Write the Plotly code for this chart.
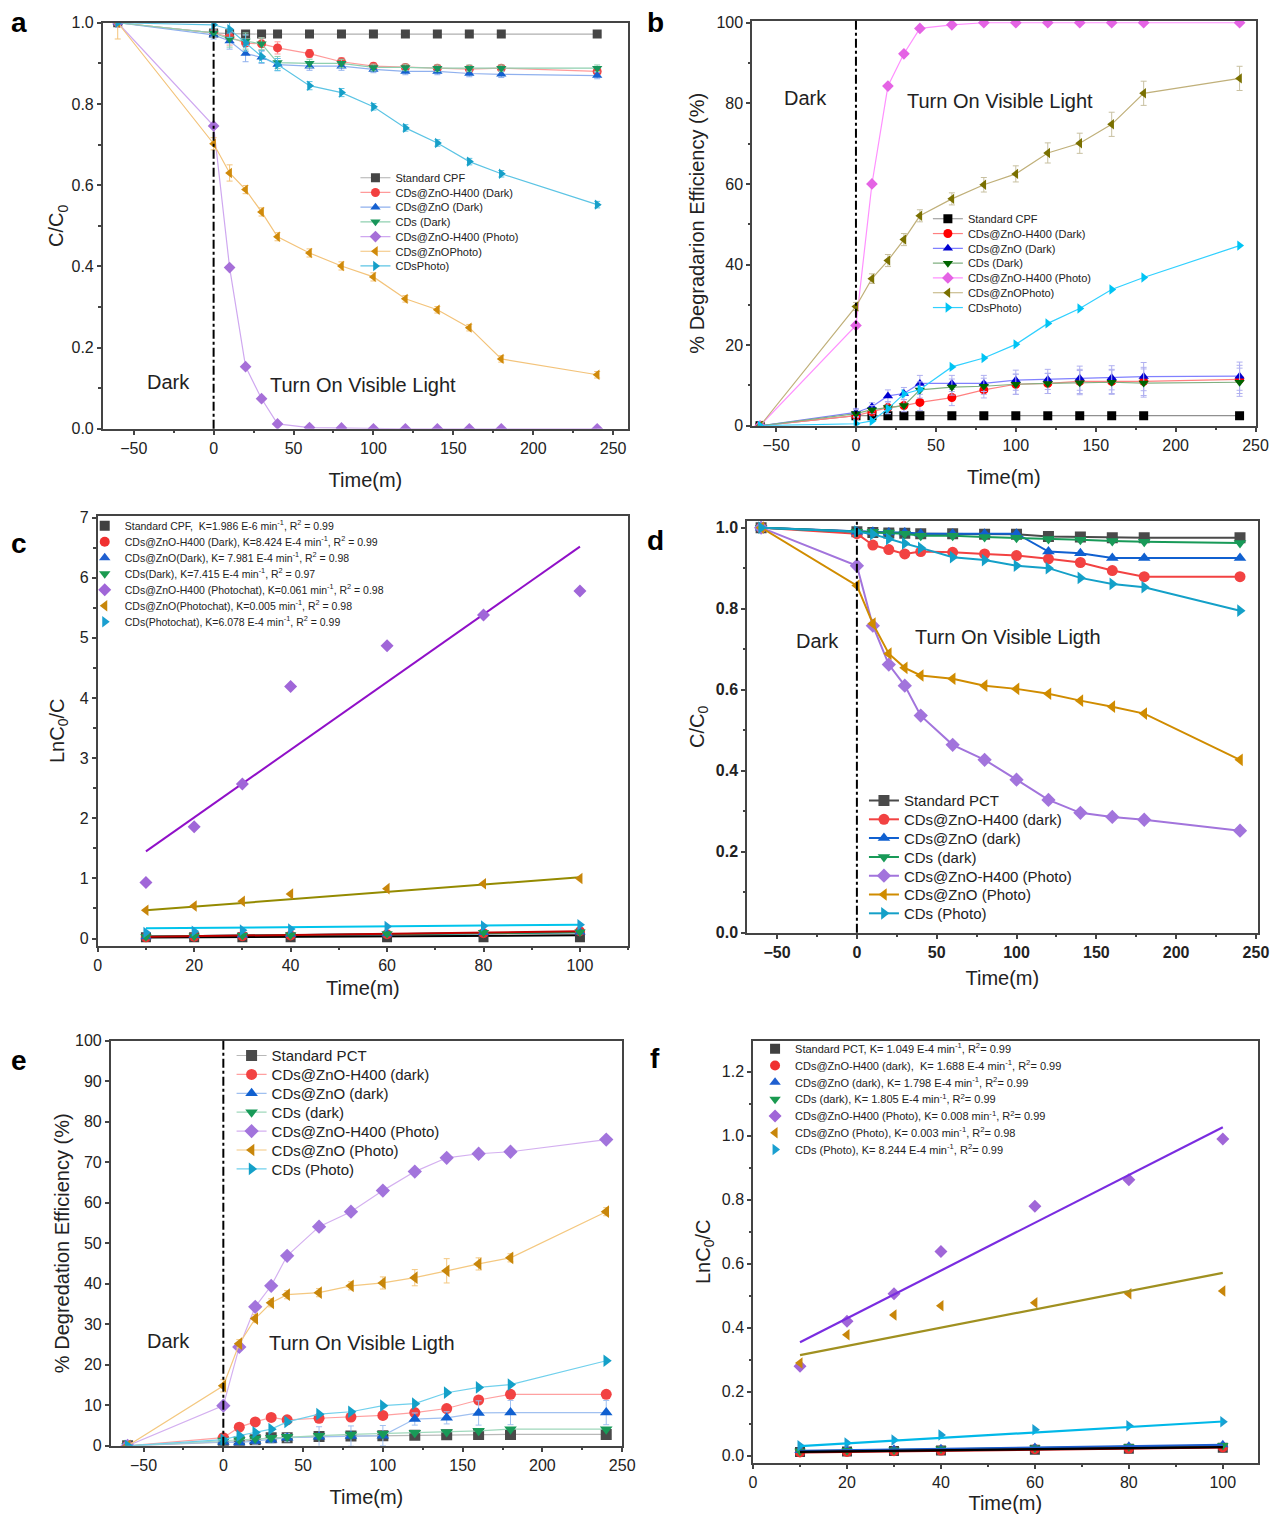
import plotly.graph_objects as go
import numpy as np

W, H = 1271, 1520
FONT = "Liberation Sans, Arial, sans-serif"

# ---------------- data ----------------
t = [-60, 0, 10, 20, 30, 40, 60, 80, 100, 120, 140, 160, 180, 240]
tk = [10, 20, 30, 40, 60, 80, 100]

names_cpf = ["Standard CPF", "CDs@ZnO-H400 (Dark)", "CDs@ZnO (Dark)", "CDs (Dark)",
             "CDs@ZnO-H400 (Photo)", "CDs@ZnOPhoto)", "CDsPhoto)"]
names_pct = ["Standard PCT", "CDs@ZnO-H400 (dark)", "CDs@ZnO (dark)", "CDs (dark)",
             "CDs@ZnO-H400 (Photo)", "CDs@ZnO (Photo)", "CDs (Photo)"]
names_c = [
    "Standard CPF,  K=1.986 E-6 min<sup>-1</sup>, R<sup>2</sup> = 0.99",
    "CDs@ZnO-H400 (Dark), K=8.424 E-4 min<sup>-1</sup>, R<sup>2</sup> = 0.99",
    "CDs@ZnO(Dark), K= 7.981 E-4 min<sup>-1</sup>, R<sup>2</sup> = 0.98",
    "CDs(Dark), K=7.415 E-4 min<sup>-1</sup>, R<sup>2</sup> = 0.97",
    "CDs@ZnO-H400 (Photochat), K=0.061 min<sup>-1</sup>, R<sup>2</sup> = 0.98",
    "CDs@ZnO(Photochat), K=0.005 min<sup>-1</sup>, R<sup>2</sup> = 0.98",
    "CDs(Photochat), K=6.078 E-4 min<sup>-1</sup>, R<sup>2</sup> = 0.99",
]
names_f = [
    "Standard PCT, K= 1.049 E-4 min<sup>-1</sup>, R<sup>2</sup>= 0.99",
    "CDs@ZnO-H400 (dark),  K= 1.688 E-4 min<sup>-1</sup>, R<sup>2</sup>= 0.99",
    "CDs@ZnO (dark), K= 1.798 E-4 min<sup>-1</sup>, R<sup>2</sup>= 0.99",
    "CDs (dark), K= 1.805 E-4 min<sup>-1</sup>, R<sup>2</sup>= 0.99",
    "CDs@ZnO-H400 (Photo), K= 0.008 min<sup>-1</sup>, R<sup>2</sup>= 0.99",
    "CDs@ZnO (Photo), K= 0.003 min<sup>-1</sup>, R<sup>2</sup>= 0.98",
    "CDs (Photo), K= 8.244 E-4 min<sup>-1</sup>, R<sup>2</sup>= 0.99",
]

# panel a : C/C0 (CPF)
a_std = [1.0, 0.975, 0.973, 0.972, 0.972, 0.972, 0.972, 0.972, 0.972, 0.972, 0.972, 0.972, 0.972, 0.972]
a_h400_dark = [1.0, 0.975, 0.965, 0.95, 0.948, 0.938, 0.924, 0.904, 0.893, 0.89, 0.888, 0.886, 0.888, 0.88]
a_zno_dark = [1.0, 0.97, 0.955, 0.924, 0.915, 0.897, 0.893, 0.893, 0.885, 0.88, 0.88, 0.875, 0.873, 0.87]
a_cds_dark = [1.0, 0.975, 0.96, 0.955, 0.948, 0.902, 0.9, 0.9, 0.89, 0.89, 0.888, 0.888, 0.888, 0.888]
a_h400_photo = [1.0, 0.746, 0.397, 0.153, 0.074, 0.012, 0.003, 0.002, 0.0, 0.0, 0.0, 0.0, 0.0, 0.0]
a_zno_photo = [1.0, 0.702, 0.63, 0.589, 0.534, 0.473, 0.433, 0.401, 0.374, 0.32, 0.293, 0.249, 0.172, 0.133]
a_cds_photo = [1.0, 0.995, 0.984, 0.95, 0.917, 0.897, 0.845, 0.828, 0.793, 0.741, 0.704, 0.658, 0.628, 0.552]
a_err_small = [0.0, 0.01, 0.02, 0.02, 0.015, 0.015, 0.01, 0.01, 0.008, 0.008, 0.008, 0.008, 0.008, 0.008]
a_err_zno = [0.04, 0.015, 0.02, 0.01, 0.01, 0.01, 0.01, 0.01, 0.01, 0.008, 0.008, 0.008, 0.008, 0.008]

# panel b : % degradation (CPF)
b_std = [0, 2.5, 2.5, 2.5, 2.5, 2.5, 2.5, 2.5, 2.5, 2.5, 2.5, 2.5, 2.5, 2.5]
b_h400_dark = [0, 2.5, 3.5, 4.5, 5.0, 5.8, 7.0, 8.9, 10.3, 10.5, 11.0, 11.0, 11.0, 11.5]
b_zno_dark = [0, 3.3, 4.7, 7.4, 8.0, 10.5, 10.5, 10.5, 11.3, 11.5, 11.8, 11.9, 12.2, 12.3]
b_cds_dark = [0, 3.0, 4.0, 4.5, 5.0, 8.9, 9.6, 9.8, 10.3, 10.5, 10.7, 10.8, 10.6, 10.8]
b_h400_photo = [0, 24.9, 60.0, 84.3, 92.3, 98.6, 99.5, 100, 100, 100, 100, 100, 100, 100]
b_zno_photo = [0, 29.6, 36.5, 41.0, 46.2, 52.1, 56.3, 59.8, 62.5, 67.7, 70.1, 74.8, 82.5, 86.2]
b_cds_photo = [0, 0.5, 1.2, 4.2, 7.9, 9.0, 14.6, 16.8, 20.2, 25.4, 29.1, 33.8, 36.8, 44.7]
b_err_zno = [0, 1.0, 1.2, 1.5, 1.5, 1.5, 1.5, 1.8, 2.0, 2.5, 2.5, 3.0, 3.0, 3.0]
b_err_dark = [0, 1.0, 1.0, 1.5, 1.5, 2.0, 2.0, 2.0, 2.5, 2.5, 3.0, 3.0, 3.5, 3.5]

# panel c : kinetics (CPF)
c_std = [0.02, 0.02, 0.02, 0.02, 0.02, 0.02, 0.02]
c_h400_dark = [0.02, 0.03, 0.04, 0.05, 0.07, 0.09, 0.12]
c_zno_dark = [0.03, 0.05, 0.06, 0.07, 0.08, 0.10, 0.11]
c_cds_dark = [0.03, 0.04, 0.05, 0.06, 0.08, 0.10, 0.11]
c_h400_photo = [0.93, 1.86, 2.57, 4.19, 4.87, 5.38, 5.78]
c_zno_photo = [0.47, 0.54, 0.62, 0.74, 0.83, 0.91, 1.00]
c_cds_photo = [0.10, 0.12, 0.14, 0.16, 0.20, 0.21, 0.23]
# fitted lines (intercept, slope)
c_fit_intercept = [0.013, 0.02, 0.025, 0.025, 0.887, 0.409, 0.163]
c_fit_slope = [0.0004, 0.001, 0.0008, 0.0008, 0.0563, 0.00611, 0.00067]

# panel d : C/C0 (PCT)
d_std = [1.0, 0.99, 0.988, 0.987, 0.986, 0.985, 0.985, 0.984, 0.984, 0.978, 0.977, 0.975, 0.975, 0.975]
d_h400_dark = [1.0, 0.985, 0.957, 0.946, 0.935, 0.941, 0.939, 0.935, 0.931, 0.923, 0.914, 0.894, 0.879, 0.879]
d_zno_dark = [1.0, 0.99, 0.99, 0.988, 0.988, 0.985, 0.985, 0.985, 0.985, 0.941, 0.937, 0.925, 0.925, 0.925]
d_cds_dark = [1.0, 0.99, 0.99, 0.988, 0.985, 0.98, 0.98, 0.977, 0.975, 0.972, 0.97, 0.967, 0.965, 0.962]
d_h400_photo = [1.0, 0.906, 0.758, 0.662, 0.61, 0.536, 0.464, 0.427, 0.378, 0.328, 0.296, 0.286, 0.279, 0.252]
d_zno_photo = [1.0, 0.857, 0.763, 0.689, 0.654, 0.635, 0.627, 0.61, 0.602, 0.59, 0.573, 0.558, 0.541, 0.427]
d_cds_photo = [1.0, 0.99, 0.984, 0.972, 0.961, 0.95, 0.927, 0.92, 0.906, 0.90, 0.876, 0.861, 0.853, 0.795]

# panel e : % degradation (PCT)
e_std = [0, 1.0, 1.0, 1.5, 2.0, 2.0, 2.3, 2.4, 2.5, 2.6, 2.7, 2.8, 2.8, 2.8]
e_h400_dark = [0, 2.0, 4.6, 5.9, 7.0, 6.4, 6.8, 7.1, 7.5, 8.2, 9.2, 11.3, 12.7, 12.7]
e_zno_dark = [0, 1.0, 0.8, 1.2, 1.5, 2.0, 2.2, 2.4, 2.5, 6.6, 6.9, 8.1, 8.2, 8.2]
e_cds_dark = [0, 1.3, 1.5, 1.8, 2.0, 2.2, 2.5, 2.8, 3.0, 3.2, 3.4, 3.7, 4.1, 4.1]
e_h400_photo = [0, 9.9, 24.4, 34.3, 39.5, 46.9, 54.1, 57.8, 63.0, 67.7, 71.1, 72.1, 72.6, 75.6]
e_zno_photo = [0, 14.8, 25.2, 31.4, 35.3, 37.3, 37.8, 39.5, 40.2, 41.5, 43.2, 44.9, 46.4, 57.8]
e_cds_photo = [0, 1.5, 2.5, 3.3, 4.1, 5.9, 7.8, 8.4, 9.9, 10.4, 13.1, 14.4, 15.1, 21.0]
e_err_zno = [0, 1.5, 1.0, 1.0, 1.0, 1.0, 1.0, 1.0, 1.5, 2.0, 3.0, 1.5, 1.0, 1.0]
e_err_dark = [0, 0.5, 0.5, 0.8, 0.8, 1.0, 2.5, 2.5, 2.5, 1.5, 1.5, 3.0, 3.0, 3.0]

# panel f : kinetics (PCT)
f_std = [0.012, 0.013, 0.015, 0.016, 0.019, 0.022, 0.025]
f_h400_dark = [0.010, 0.012, 0.014, 0.016, 0.020, 0.022, 0.026]
f_zno_dark = [0.016, 0.018, 0.020, 0.022, 0.026, 0.030, 0.034]
f_cds_dark = [0.014, 0.016, 0.018, 0.021, 0.024, 0.028, 0.032]
f_h400_photo = [0.28, 0.42, 0.506, 0.638, 0.78, 0.863, 0.99]
f_zno_photo = [0.29, 0.378, 0.44, 0.469, 0.478, 0.506, 0.515]
f_cds_photo = [0.031, 0.040, 0.049, 0.065, 0.081, 0.094, 0.106]
f_fit_intercept = [0.0103, 0.009, 0.013, 0.012, 0.280, 0.286, 0.0214]
f_fit_slope = [0.000167, 0.00017, 0.00021, 0.0002, 0.00747, 0.002856, 0.000856]

symbols = ["square", "circle", "triangle-up", "triangle-down", "diamond", "triangle-left", "triangle-right"]

# ---------------- helpers ----------------
# calibration of the capture (the page is shown slightly scaled / offset)
SX, OX, SY, OY = 0.9876, 3.2, 0.9888, 7.25

def px(x):
    return min(1.0, max(0.0, ((x - OX) / SX) / W))

def py(y):
    return min(1.0, max(0.0, 1 - ((y - OY) / SY) / H))

fig = go.Figure()
legend_defs = {}

def axis(n, xr, yr, xdom, ydom, xdtick, ydtick, xminor, yminor, xtitle, ytitle,
         yfmt=None, bold=False, xstand=8, ystand=8, mirror=True):
    tf = dict(size=16, color="#222", family=FONT, weight="bold" if bold else "normal")
    common = dict(showline=True, linecolor="#444", linewidth=1.5, mirror=mirror,
                  ticks="outside", ticklen=4, tickwidth=1.5, tickcolor="#444",
                  showgrid=False, zeroline=False, tickfont=tf)
    xa = dict(common, range=xr, domain=xdom, dtick=xdtick, tick0=0,
              minor=dict(ticks="outside", ticklen=2.5, tickcolor="#444", dtick=xminor),
              title=dict(text=xtitle, font=dict(size=20, color="#222", family=FONT), standoff=xstand),
              anchor="y" + ("" if n == 1 else str(n)))
    ya = dict(common, range=yr, domain=ydom, dtick=ydtick, tick0=0,
              minor=dict(ticks="outside", ticklen=2.5, tickcolor="#444", dtick=yminor) if yminor else dict(ticks=""),
              title=dict(text=ytitle, font=dict(size=20, color="#222", family=FONT), standoff=ystand),
              anchor="x" + ("" if n == 1 else str(n)))
    if yfmt:
        ya["tickformat"] = yfmt
    key = "" if n == 1 else str(n)
    fig.layout["xaxis" + key] = xa
    fig.layout["yaxis" + key] = ya

# legend layout per panel: (legend left x in px, first item centre y, spacing, font size)
leg_pos = {1: (355, 177, 14.7, 11), 2: (928, 218, 14.8, 11), 3: (84, 525, 16.0, 10.5),
           4: (864, 800, 18.8, 15), 5: (231, 1055, 18.9, 15), 6: (755, 1048, 16.8, 11)}

def legend_id(n, i):
    k = (n - 1) * 7 + i + 1
    lid = "legend" if k == 1 else "legend" + str(k)
    x0, y0, dy, fs = leg_pos[n]
    legend_defs[lid] = dict(x=px(x0), y=py(y0 + i * dy), xanchor="left", yanchor="middle",
                            bgcolor="rgba(0,0,0,0)", borderwidth=0,
                            font=dict(size=fs, family=FONT, color="#222"),
                            itemwidth=30)
    return lid

def add(n, x, y, i, name, marker_color, line_color, sym, size=9, lw=1.2, mode="lines+markers",
        err=None, err_color=None, legend=True):
    key = "" if n == 1 else str(n)
    tr = go.Scatter(x=x, y=y, name=name, mode=mode,
                    xaxis="x" + key, yaxis="y" + key, showlegend=legend,
                    marker=dict(symbol=sym, size=size, color=marker_color, line=dict(width=0)),
                    line=dict(color=line_color, width=lw))
    if legend:
        tr.legend = legend_id(n, i)
    if err is not None:
        tr.error_y = dict(type="data", array=err, color=err_color or line_color, thickness=1, width=3)
    fig.add_trace(tr)

# ---------------- panel a ----------------
axis(1, [-69.4, 259.4], [0, 1.0], [px(102), px(628)], [py(428), py(22)], 50, 0.2, 25, 0.1,
     "Time(m)", "C/C<sub>0</sub>", yfmt=".1f", xstand=17, ystand=2)
ca = ["#454545", "#f24040", "#1560d0", "#17955a", "#a66fd8", "#d08a0a", "#169fc8"]
la = ["#b0b0b0", "#ff9a9a", "#8fb0ee", "#8fd0b0", "#cfa8f0", "#f3c37a", "#5cc4e4"]
a_vals = [a_std, a_h400_dark, a_zno_dark, a_cds_dark, a_h400_photo, a_zno_photo, a_cds_photo]
a_errs = [None, a_err_small, a_err_small, a_err_small, None, a_err_zno, a_err_small]
for i in range(7):
    add(1, t, a_vals[i], i, names_cpf[i], ca[i], la[i], symbols[i], size=9, lw=1.2,
        err=a_errs[i], err_color=la[i])

# ---------------- panel b ----------------
axis(2, [-65.0, 250.0], [0, 100.5], [px(752), px(1256)], [py(425), py(20)], 50, 20, 25, 10,
     "Time(m)", "% Degradarion Efficiency (%)", xstand=17, ystand=6)
cb = ["#000000", "#ff0000", "#0000d0", "#006400", "#e463e4", "#7a7000", "#00c4f4"]
lb = ["#909090", "#ff8080", "#8080ff", "#80b080", "#ff90ff", "#c0b07a", "#30d0ff"]
b_vals = [b_std, b_h400_dark, b_zno_dark, b_cds_dark, b_h400_photo, b_zno_photo, b_cds_photo]
b_errs = [None, b_err_dark, b_err_dark, b_err_dark, None, b_err_zno, None]
for i in range(7):
    add(2, t, b_vals[i], i, names_cpf[i], cb[i], lb[i], symbols[i], size=9, lw=1.2,
        err=b_errs[i], err_color="#c8c0a0" if i == 5 else "#b0b0f0")

# ---------------- panel c ----------------
axis(3, [0, 110], [-0.12, 7.03], [px(97), px(628)], [py(945), py(515)], 20, 1, 10, 0.5,
     "Time(m)", "LnC<sub>0</sub>/C", xstand=8, ystand=10)
cc = ["#404040", "#f03030", "#1f5fd0", "#1a9a50", "#a066d8", "#c8860a", "#1a9fd0"]
lc = ["#000000", "#c00000", "#1f5fd0", "#1a9a50", "#9010c8", "#948a00", "#00c4ec"]
c_vals = [c_std, c_h400_dark, c_zno_dark, c_cds_dark, c_h400_photo, c_zno_photo, c_cds_photo]
tk_arr = np.array(tk, dtype=float)
for i in [2, 3, 0, 1, 4, 5, 6]:
    yfit = c_fit_intercept[i] + c_fit_slope[i] * tk_arr
    add(3, tk, yfit, i, names_c[i], lc[i], lc[i], symbols[i], mode="lines", lw=2, legend=False)
for i in range(7):
    add(3, tk, c_vals[i], i, names_c[i], cc[i], cc[i], symbols[i], size=10, mode="markers")

# ---------------- panel d ----------------
axis(4, [-68.8, 251], [0, 1.017], [px(747), px(1258)], [py(932), py(520)], 50, 0.2, 25, 0.1,
     "Time(m)", "C/C<sub>0</sub>", yfmt=".1f", bold=True, xstand=11, ystand=6)
cd = ["#4a4a4a", "#f24242", "#1060d0", "#189a58", "#a274dc", "#d08c00", "#14a0c8"]
d_vals = [d_std, d_h400_dark, d_zno_dark, d_cds_dark, d_h400_photo, d_zno_photo, d_cds_photo]
for i in range(7):
    add(4, t, d_vals[i], i, names_pct[i], cd[i], cd[i], symbols[i], size=11, lw=2)

# ---------------- panel e ----------------
axis(5, [-70.6, 250], [0, 100], [px(110), px(622)], [py(1445), py(1040)], 50, 10, 25, None,
     "Time(m)", "% Degredation Efficiency (%)", xstand=17, ystand=0)
ce = ["#4a4a4a", "#f24242", "#1060d0", "#189a58", "#a274dc", "#c8860a", "#14a0c8"]
le = ["#b8b8b8", "#ffa0a0", "#a0c0f0", "#a0d8bc", "#d4b0f0", "#f4c880", "#70d0ec"]
e_vals = [e_std, e_h400_dark, e_zno_dark, e_cds_dark, e_h400_photo, e_zno_photo, e_cds_photo]
e_errs = [None, None, e_err_dark, None, None, e_err_zno, None]
for i in range(7):
    add(5, t, e_vals[i], i, names_pct[i], ce[i], le[i], symbols[i], size=11, lw=1.2,
        err=e_errs[i], err_color=le[i])

# ---------------- panel f ----------------
axis(6, [0, 107.4], [-0.022, 1.297], [px(753), px(1258)], [py(1462), py(1040)], 20, 0.2, 10, 0.1,
     "Time(m)", "LnC<sub>0</sub>/C", yfmt=".1f", xstand=6, ystand=6)
cf = ["#404040", "#f03030", "#1f5fd0", "#1a9a50", "#a066d8", "#c8860a", "#1a9fd0"]
lf = ["#000000", "#c00000", "#1f5fd0", "#1a9a50", "#7a2ce0", "#a09020", "#00b8e8"]
f_vals = [f_std, f_h400_dark, f_zno_dark, f_cds_dark, f_h400_photo, f_zno_photo, f_cds_photo]
for i in range(7):
    add(6, tk, f_vals[i], i, names_f[i], cf[i], cf[i], symbols[i], size=10, mode="markers")
for i in [3, 2, 1, 0, 4, 5, 6]:
    yfit = f_fit_intercept[i] + f_fit_slope[i] * tk_arr
    add(6, tk, yfit, i, names_f[i], lf[i], lf[i], symbols[i], mode="lines", lw=2.2, legend=False)

# ---------------- shapes & annotations ----------------
for key in ["", "2", "4", "5"]:
    fig.add_shape(type="line", xref="x" + key, yref="y" + key + " domain",
                  x0=0, x1=0, y0=0, y1=1, line=dict(color="black", width=2, dash="dashdot"))

ann = [
    ("a", 18, 22), ("b", 655, 22), ("c", 18, 543), ("d", 655, 540), ("e", 18, 1060), ("f", 655, 1058),
]
for txt, x, y in ann:
    fig.add_annotation(text=txt, x=px(x), y=py(y), xref="paper", yref="paper",
                       showarrow=False, font=dict(size=28, family=FONT, color="black", weight="bold"),
                       xanchor="center", yanchor="middle")

labels = [
    ("Dark", 168, 381), ("Turn On Visible Light", 363, 384),
    ("Dark", 805, 97), ("Turn On Visible Light", 1000, 100),
    ("Dark", 818, 640), ("Turn On Visible Ligth", 1008, 636),
    ("Dark", 168, 1340), ("Turn On Visible Ligth", 362, 1342),
]
for txt, x, y in labels:
    fig.add_annotation(text=txt, x=px(x), y=py(y), xref="paper", yref="paper",
                       showarrow=False, font=dict(size=20, family=FONT, color="#222"),
                       xanchor="center", yanchor="middle")

fig.update_layout(
    width=W, height=H, margin=dict(l=0, r=0, t=0, b=0),
    paper_bgcolor="white", plot_bgcolor="white",
    font=dict(family=FONT, color="#222"),
    **legend_defs,
)

fig.write_html(
    "out.html",
    config={"displayModeBar": False},
    post_script=("document.body.style.margin='0';"
                 "document.body.style.overflow='hidden';"
                 "document.documentElement.style.overflow='hidden';"),
)
